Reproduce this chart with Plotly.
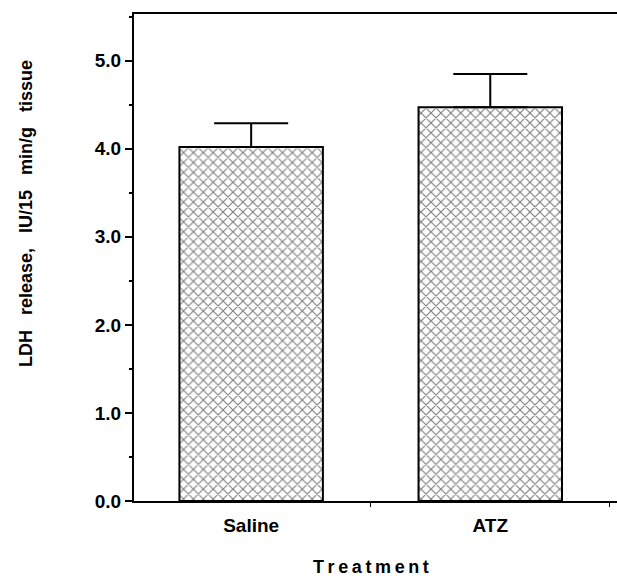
import plotly.graph_objects as go

categories = ["Saline", "ATZ"]
ldh_release = [4.02, 4.47]
sem_upper = [0.27, 0.38]
y_ticks = [0, 1, 2, 3, 4, 5]
y_tick_labels = ["0.0", "1.0", "2.0", "3.0", "4.0", "5.0"]

FONT = "Liberation Sans, Arial, Helvetica, sans-serif"

fig = go.Figure()
fig.add_trace(go.Bar(
    x=categories,
    y=ldh_release,
    width=0.6,
    marker=dict(
        color="white",
        line=dict(color="black", width=2),
        pattern=dict(shape="x", fgcolor="black", bgcolor="white", size=7, solidity=0.3),
    ),
    error_y=dict(type="data", symmetric=False, array=sem_upper,
                 arrayminus=[0, 0], width=37, thickness=2, color="black"),
))

fig.update_layout(
    width=617, height=576,
    margin=dict(l=134, r=0, t=14, b=75),
    plot_bgcolor="white", paper_bgcolor="white",
    showlegend=False,
    font=dict(family=FONT, color="black"),
)
fig.update_xaxes(
    range=[-0.49, 1.53],
    tickvals=categories, ticktext=["<b>%s</b>" % c for c in categories],
    showline=True, linecolor="black", linewidth=2, mirror=True,
    ticks="outside", tickson="boundaries", ticklen=4, tickcolor="black",
    ticklabelstandoff=6,
    tickfont=dict(size=19, family=FONT),
    showgrid=False, zeroline=False,
)
fig.update_yaxes(
    range=[0, 5.53],
    tickvals=y_ticks, ticktext=["<b>%s</b>" % t for t in y_tick_labels],
    showline=True, linecolor="black", linewidth=2,
    ticks="outside", ticklen=7, tickcolor="black", tickwidth=2,
    minor=dict(dtick=0.5, ticks="outside", ticklen=3, tickcolor="black"),
    tickfont=dict(size=19, family=FONT),
    showgrid=False, zeroline=False,
)

fig.add_annotation(
    text="<b>LDH\u00a0\u00a0 release,\u00a0\u00a0 IU/15\u00a0\u00a0 min/g\u00a0\u00a0 tissue</b>",
    xref="paper", yref="paper", x=-0.225, y=0.59, xanchor="center", yanchor="middle",
    textangle=-90, showarrow=False, font=dict(size=18, family=FONT),
)
fig.add_annotation(
    text="<b>T\u2009r\u2009e\u2009a\u2009t\u2009m\u2009e\u2009n\u2009t</b>",
    xref="paper", yref="paper", x=0.49, y=-0.135, xanchor="center", yanchor="middle",
    showarrow=False, font=dict(size=18, family=FONT),
)

fig.write_html("out.html")
